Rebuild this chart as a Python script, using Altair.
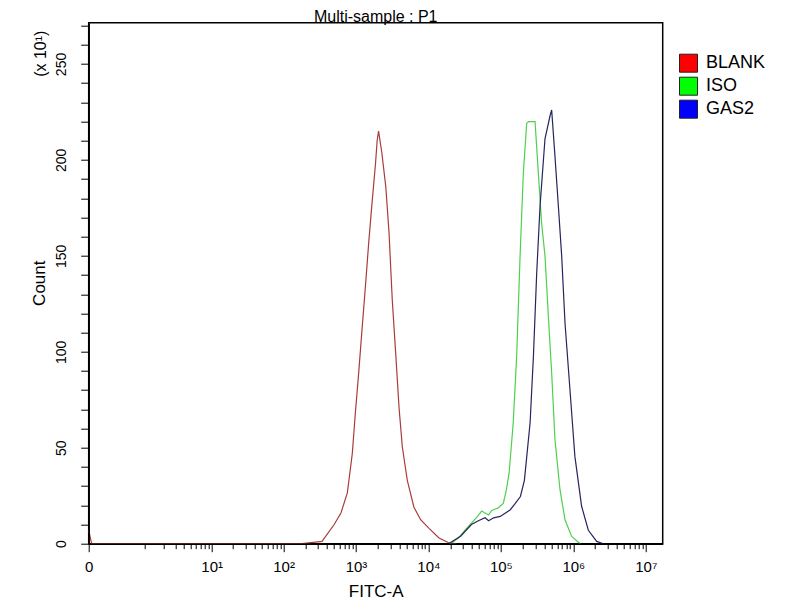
import altair as alt
import pandas as pd

# Flow cytometry overlay: FITC-A histograms for three samples
series_names = ["BLANK", "ISO", "GAS2"]
line_colors = ["#a83c3c", "#4fcf4f", "#25255f"]
legend_colors = ["#ff0000", "#00ff00", "#0000ff"]

blank_x = [0, 0.02, 180, 340, 500, 620, 760, 890, 980, 1090, 1220, 1350, 1500, 1670, 1860,
           1960, 2050, 2270, 2580, 2860, 3170, 3530, 3930, 4360, 5110, 6310, 7810, 10200,
           14000, 19000, 24000]
blank_y = [7, 0, 0, 1.2, 10, 16, 26.5, 47, 68, 89, 113, 134, 157, 178, 198,
           210, 215, 204, 186, 162, 127, 99.5, 71, 50.5, 33, 19, 12.5, 8,
           3, 0.5, 0]

iso_x = [20000, 26000, 32000, 39800, 47000, 54300, 67600, 74800, 92500, 108000, 119000,
         130000, 148000, 165000, 184000, 204000, 227000, 240000, 296000, 329000, 365000,
         406000, 452000, 502000, 558000, 655000, 767000, 948000, 1240000]
iso_y = [0, 3, 7, 11, 14, 17, 15, 17.3, 18.7, 21, 28,
         37, 63, 97.5, 150, 193, 219, 220, 220, 193, 167,
         150, 118.5, 89, 54, 28, 12.5, 3.8, 0]

gas2_x = [19000, 28000, 39200, 48900, 60500, 67600, 79400, 98000, 135000, 158000, 186000,
          211000, 253000, 281000, 312000, 347000, 406000, 477000, 502000, 558000, 621000,
          690000, 767000, 899000, 1050000, 1300000, 1610000, 2100000, 2600000]
gas2_y = [0, 4, 10, 12, 13.5, 12, 13.5, 14.2, 17.7, 21, 24.6,
          33, 63, 97.5, 141, 176, 211, 223, 226, 201.7, 176,
          150, 115, 80, 45.5, 19.5, 7, 1.2, 0]

x_major = [0, 10, 100, 1000, 10000, 100000, 1000000, 10000000]
x_major_labels = ["0", "10¹", "10²", "10³", "10⁴", "10⁵", "10⁶", "10⁷"]
x_minor = [1] + [k * 10 ** e for e in range(0, 7) for k in range(2, 10)]
y_ticks = list(range(0, 280, 10))

frames = []
for name, xs, ys in [("BLANK", blank_x, blank_y), ("ISO", iso_x, iso_y), ("GAS2", gas2_x, gas2_y)]:
    frames.append(pd.DataFrame({"FITC": xs, "Count": ys, "Sample": name}))
df = pd.concat(frames, ignore_index=True)

FONT = "Liberation Sans"
major_js = "[" + ",".join(str(v) for v in x_major) + "]"
labels_js = "[" + ",".join("'" + s + "'" for s in x_major_labels) + "]"
is_major = "indexof(" + major_js + ", datum.value) >= 0"

x_scale = alt.Scale(type="symlog", constant=0.205, domain=[0, 17100000], nice=False)
y_scale = alt.Scale(domain=[0, 271.5], nice=False)

x_axis = alt.Axis(
    values=sorted(x_major + x_minor),
    labelExpr=is_major + " ? " + labels_js + "[indexof(" + major_js + ", datum.value)] : ''",
    tickSize={"condition": {"test": is_major, "value": 8}, "value": 5},
    tickColor="black", labelColor="black", labelFont=FONT, labelFontSize=15,
    labelPadding=8, labelOverlap=False, labelFlush=False, grid=False,
    domainColor="black", domainWidth=1.5, zindex=1,
    title="FITC-A", titleFont=FONT, titleFontSize=17, titleFontWeight="normal",
    titleColor="black", titleX=287, titleY=48, titleBaseline="middle",
)
y_axis = alt.Axis(
    values=y_ticks,
    labelExpr="datum.value % 50 == 0 ? datum.label : ''",
    tickSize=8, tickColor="black", labelColor="black", labelFont=FONT, labelFontSize=14,
    labelAngle=270, labelAlign="center", labelBaseline="bottom", labelPadding=12,
    labelOverlap=False, labelFlush=False, grid=False,
    domainColor="black", domainWidth=1.5, zindex=1,
    title="Count", titleFont=FONT, titleFontSize=17, titleFontWeight="normal",
    titleColor="black", titleX=-49, titleY=260, titleAngle=270,
    titleAlign="center", titleBaseline="middle",
)

# stroke scale lists the samples in reverse so its (hidden) legend is not merged
# with the filled-square legend below
lines = alt.Chart(df).mark_line(strokeWidth=1.2).encode(
    x=alt.X("FITC:Q", scale=x_scale, axis=x_axis),
    y=alt.Y("Count:Q", scale=y_scale, axis=y_axis),
    stroke=alt.Stroke(
        "Sample:N",
        scale=alt.Scale(domain=series_names[::-1], range=line_colors[::-1]),
        legend=None,
    ),
)

# tiny squares on the baseline (under the axis line) that carry the filled legend
legend_layer = alt.Chart(df).transform_filter(
    alt.datum.Count == 0
).mark_square(size=1).encode(
    x=alt.X("FITC:Q", scale=x_scale, axis=x_axis),
    y=alt.Y("Count:Q", scale=y_scale, axis=y_axis),
    fill=alt.Fill(
        "Sample:N",
        scale=alt.Scale(domain=series_names, range=legend_colors),
        legend=alt.Legend(
            title=None, orient="none", legendX=590.3, legendY=31, padding=0,
            symbolType="square", symbolSize=324, symbolStrokeColor="#222222",
            symbolStrokeWidth=1, symbolOpacity=1, labelFont=FONT, labelFontSize=18,
            labelColor="black", labelOffset=8, rowPadding=0,
        ),
    ),
)

scale_note = alt.Chart(pd.DataFrame({"t": ["(x 10¹)"]})).mark_text(
    angle=270, align="center", baseline="middle", font=FONT, fontSize=16, color="black"
).encode(text="t:N", x=alt.value(-48), y=alt.value(31))

chart = alt.layer(lines, legend_layer, scale_note).properties(
    width=574,
    height=521,
    autosize=alt.AutoSizeParams(type="none"),
    padding={"left": 80.7, "top": 14.7, "right": 129.3, "bottom": 56.3},
    title=alt.TitleParams("Multi-sample : P1", font=FONT, fontSize=16, fontWeight="normal",
                          color="black", anchor="middle", frame="group", offset=-2),
).configure_view(
    stroke="black", strokeWidth=1.5
)

chart.save("out.html", embed_options={"renderer": "svg", "actions": False})
